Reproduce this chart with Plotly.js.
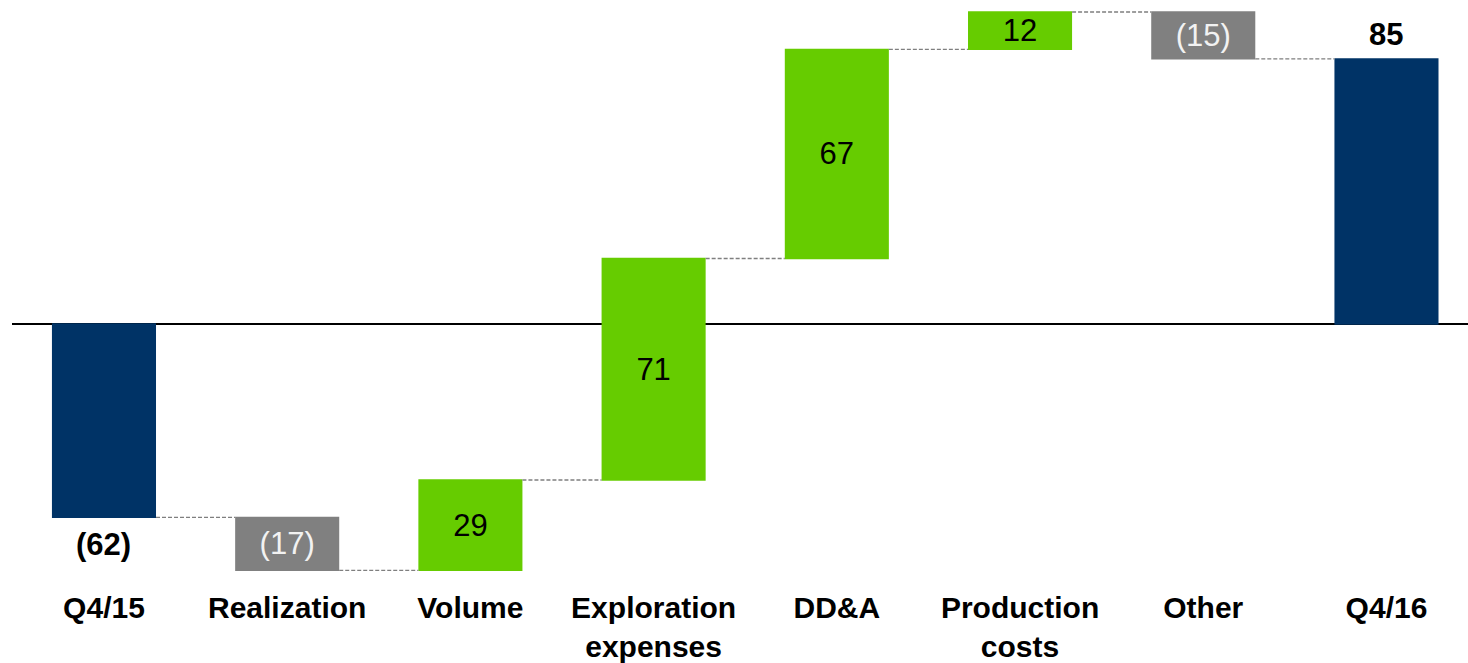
<!DOCTYPE html>
<html>
<head>
<meta charset="utf-8">
<script src="https://cdn.plot.ly/plotly-3.0.1.min.js"></script>
<style>
  html, body { margin: 0; padding: 0; background: #ffffff; }
  #chart { width: 1468px; height: 663px; }
</style>
</head>
<body>
<div id="chart"></div>
<script>
// Bridge of quarterly earnings, Q4/15 to Q4/16
const categories = ["Q4/15", "Realization", "Volume", "Exploration<br>expenses", "DD&A", "Production<br>costs", "Other", "Q4/16"];
const measures = ["absolute", "relative", "relative", "relative", "relative", "relative", "relative", "total"];
const values = [-62, -17, 29, 71, 67, 12, -15, 85];

const NAVY = "#003366";
const GREEN = "#66CC00";
const GREY = "#808080";
const FONT = "Liberation Sans, Arial, sans-serif";

// Negative amounts are shown in parentheses
function fmt(v) { return v < 0 ? "(" + Math.abs(v) + ")" : String(v); }

// Step labels sit inside the bars; the two totals get labels outside
const isTotal = measures.map(m => m !== "relative");
const barText = values.map((v, i) => isTotal[i] ? "" : fmt(v));
const barTextColor = values.map((v, i) => (!isTotal[i] && v < 0) ? "#F2F2F2" : "#000000");

// Running total, for placing the outside labels of the totals
const levels = [];
let run = 0;
values.forEach((v, i) => {
  if (measures[i] === "absolute") run = v;
  else if (measures[i] === "relative") run += v;
  levels.push(run);
});

const trace = {
  type: "waterfall",
  x: categories,
  y: values,
  measure: measures,
  width: 0.568,
  text: barText,
  textposition: "inside",
  textangle: 0,
  insidetextanchor: "middle",
  constraintext: "none",
  textfont: { family: FONT, size: 31, color: barTextColor },
  increasing: { marker: { color: GREEN } },
  decreasing: { marker: { color: GREY } },
  totals: { marker: { color: NAVY } },
  connector: { mode: "between", line: { color: "#7f7f7f", width: 1.3, dash: "4px,2px" } },
  hoverinfo: "skip"
};

const annotations = [];
values.forEach((v, i) => {
  if (!isTotal[i]) return;
  const lvl = levels[i];
  annotations.push({
    x: categories[i],
    y: lvl,
    xref: "x",
    yref: "y",
    text: fmt(lvl),
    showarrow: false,
    yanchor: lvl < 0 ? "top" : "bottom",
    yshift: lvl < 0 ? -8 : 5,
    font: { family: FONT, size: 31, color: "#000000", weight: "bold" }
  });
});

const layout = {
  width: 1468,
  height: 663,
  margin: { l: 12, r: 0, t: 0, b: 73 },
  paper_bgcolor: "#ffffff",
  plot_bgcolor: "#ffffff",
  showlegend: false,
  font: { family: FONT },
  xaxis: {
    type: "category",
    range: [-0.502, 7.445],
    showgrid: false,
    zeroline: false,
    showline: false,
    ticks: "",
    ticklabelstandoff: -3,
    tickfont: { family: FONT, size: 30, color: "#000000", weight: "bold" },
    fixedrange: true
  },
  yaxis: {
    range: [-85.26, 103.85],
    showgrid: false,
    showticklabels: false,
    ticks: "",
    zeroline: true,
    zerolinecolor: "#000000",
    zerolinewidth: 2,
    showline: false,
    fixedrange: true
  },
  annotations: annotations
};

Plotly.newPlot("chart", [trace], layout, { displayModeBar: false, staticPlot: true });
</script>
</body>
</html>
